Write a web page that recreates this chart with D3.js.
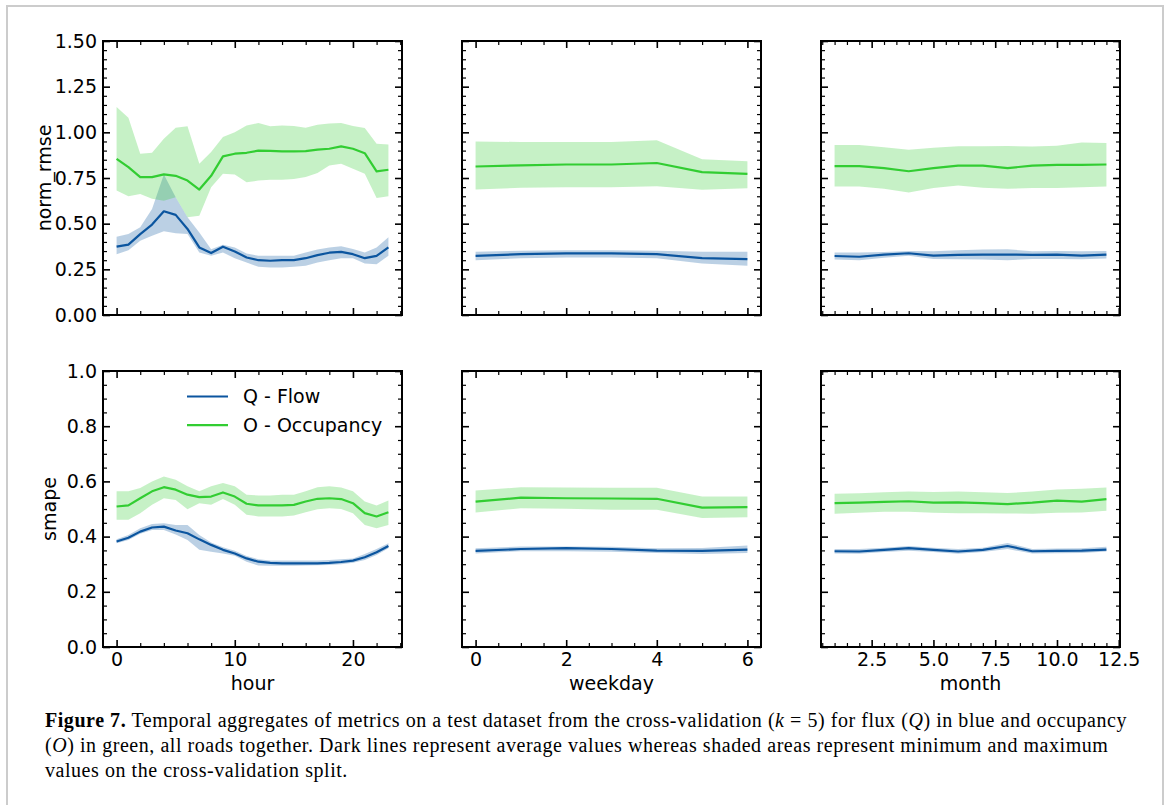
<!DOCTYPE html>
<html>
<head>
<meta charset="utf-8">
<script src="https://cdn.jsdelivr.net/npm/d3@7/dist/d3.min.js"></script>
<style>
  body { margin: 0; background: #fff; }
  svg text { font-family: "DejaVu Sans", sans-serif; fill: #000; }
  .cap text, text.cap { font-family: "Liberation Serif", serif; }
</style>
</head>
<body>
<svg id="fig" width="1167" height="805"></svg>
<script>
// ---------------- data ----------------
var hours    = [0,1,2,3,4,5,6,7,8,9,10,11,12,13,14,15,16,17,18,19,20,21,22,23];
var weekdays = [0,1,2,3,4,5,6];
var months   = [1,2,3,4,5,6,7,8,9,10,11,12];

// norm_rmse by hour
var rmseHourO    = [0.855,0.81,0.755,0.755,0.77,0.762,0.736,0.687,0.762,0.868,0.883,0.888,0.90,0.899,0.896,0.896,0.897,0.905,0.91,0.923,0.91,0.886,0.786,0.795];
var rmseHourOMax = [1.139,1.08,0.883,0.888,0.965,1.025,1.033,0.828,0.892,0.974,1.0,1.038,1.051,1.033,1.037,1.035,1.025,1.042,1.048,1.051,1.035,1.024,0.938,0.934];
var rmseHourOMin = [0.681,0.65,0.663,0.636,0.626,0.645,0.535,0.544,0.70,0.773,0.769,0.727,0.736,0.74,0.74,0.745,0.755,0.777,0.819,0.828,0.80,0.773,0.641,0.65];
var rmseHourQ    = [0.374,0.385,0.443,0.495,0.568,0.548,0.471,0.37,0.339,0.374,0.348,0.315,0.30,0.297,0.30,0.30,0.311,0.328,0.341,0.346,0.333,0.311,0.324,0.37];
var rmseHourQMax = [0.429,0.443,0.48,0.58,0.769,0.645,0.535,0.452,0.36,0.385,0.37,0.337,0.324,0.324,0.324,0.324,0.342,0.359,0.37,0.377,0.361,0.342,0.37,0.425];
var rmseHourQMin = [0.333,0.355,0.407,0.434,0.458,0.447,0.443,0.342,0.324,0.342,0.311,0.288,0.264,0.26,0.26,0.264,0.269,0.288,0.30,0.311,0.311,0.282,0.278,0.324];

// smape by hour
var smapeHourO    = [0.509,0.513,0.539,0.564,0.579,0.57,0.552,0.543,0.545,0.56,0.545,0.519,0.513,0.513,0.513,0.515,0.527,0.537,0.539,0.536,0.521,0.485,0.473,0.488];
var smapeHourOMax = [0.564,0.564,0.576,0.60,0.618,0.606,0.582,0.564,0.582,0.594,0.582,0.552,0.549,0.549,0.552,0.552,0.564,0.579,0.582,0.578,0.564,0.527,0.513,0.531];
var smapeHourOMin = [0.461,0.461,0.485,0.515,0.539,0.533,0.499,0.521,0.515,0.536,0.515,0.479,0.473,0.473,0.473,0.476,0.488,0.499,0.503,0.50,0.485,0.442,0.43,0.442];
var smapeHourQ    = [0.382,0.396,0.418,0.433,0.436,0.422,0.412,0.39,0.37,0.352,0.339,0.321,0.309,0.305,0.303,0.303,0.303,0.303,0.305,0.308,0.313,0.325,0.343,0.366];
var smapeHourQMax = [0.39,0.406,0.43,0.446,0.448,0.442,0.442,0.406,0.379,0.361,0.349,0.33,0.318,0.313,0.313,0.313,0.313,0.313,0.315,0.318,0.321,0.337,0.355,0.376];
var smapeHourQMin = [0.376,0.388,0.41,0.424,0.424,0.408,0.388,0.352,0.345,0.339,0.331,0.309,0.295,0.294,0.294,0.294,0.295,0.296,0.297,0.30,0.305,0.315,0.333,0.358];

// norm_rmse by weekday
var rmseDayO    = [0.813,0.819,0.824,0.824,0.832,0.782,0.773];
var rmseDayOMax = [0.95,0.947,0.947,0.947,0.956,0.852,0.842];
var rmseDayOMin = [0.687,0.696,0.70,0.70,0.705,0.685,0.694];
var rmseDayQ    = [0.324,0.333,0.337,0.337,0.333,0.311,0.306];
var rmseDayQMax = [0.346,0.352,0.355,0.355,0.352,0.346,0.346];
var rmseDayQMin = [0.30,0.311,0.315,0.315,0.311,0.282,0.269];

// smape by weekday
var smapeDayO    = [0.527,0.541,0.539,0.538,0.537,0.505,0.507];
var smapeDayOMax = [0.567,0.579,0.578,0.577,0.577,0.545,0.545];
var smapeDayOMin = [0.487,0.503,0.501,0.497,0.497,0.467,0.47];
var smapeDayQ    = [0.348,0.355,0.358,0.355,0.349,0.348,0.353];
var smapeDayQMax = [0.358,0.364,0.364,0.363,0.358,0.359,0.368];
var smapeDayQMin = [0.339,0.347,0.347,0.345,0.341,0.337,0.341];

// norm_rmse by month
var rmseMonthO    = [0.815,0.815,0.804,0.787,0.804,0.818,0.818,0.804,0.818,0.822,0.822,0.824];
var rmseMonthOMax = [0.931,0.931,0.918,0.904,0.916,0.924,0.924,0.925,0.922,0.927,0.944,0.942];
var rmseMonthOMin = [0.704,0.704,0.691,0.671,0.695,0.709,0.696,0.691,0.695,0.695,0.70,0.704];
var rmseMonthQ    = [0.323,0.319,0.331,0.338,0.325,0.329,0.331,0.331,0.329,0.331,0.325,0.331];
var rmseMonthQMax = [0.342,0.342,0.345,0.351,0.349,0.355,0.358,0.36,0.349,0.351,0.349,0.351];
var rmseMonthQMin = [0.304,0.30,0.314,0.325,0.307,0.305,0.304,0.30,0.307,0.307,0.305,0.309];

// smape by month
var smapeMonthO    = [0.521,0.523,0.526,0.528,0.523,0.524,0.521,0.518,0.523,0.53,0.527,0.536];
var smapeMonthOMax = [0.555,0.557,0.561,0.563,0.562,0.563,0.561,0.558,0.563,0.571,0.573,0.578];
var smapeMonthOMin = [0.483,0.486,0.49,0.49,0.486,0.485,0.485,0.484,0.483,0.486,0.487,0.494];
var smapeMonthQ    = [0.347,0.346,0.352,0.358,0.352,0.346,0.352,0.366,0.347,0.348,0.349,0.353];
var smapeMonthQMax = [0.355,0.355,0.36,0.366,0.36,0.355,0.36,0.377,0.355,0.357,0.358,0.363];
var smapeMonthQMin = [0.339,0.338,0.344,0.349,0.344,0.338,0.344,0.355,0.339,0.34,0.341,0.346];

// ticks
var rmseTicks   = [0, 0.25, 0.5, 0.75, 1.0, 1.25, 1.5];
var smapeTicks  = [0, 0.2, 0.4, 0.6, 0.8, 1.0];
var hourTicks   = [0, 10, 20];
var dayTicks    = [0, 2, 4, 6];
var monthTicks  = [2.5, 5.0, 7.5, 10.0, 12.5];

var legendLabels = ['Q - Flow', 'O - Occupancy'];
var blue = '#0b559f', green = '#32cd32';

// ---------------- layout ----------------
var svg = d3.select('#fig');
var colLeft = [103, 462, 821], panelW = 299;
var rowTop = [41, 371], rowBottom = [315, 647];

svg.append('rect')
  .attr('x', 7).attr('y', 6).attr('width', 1156).attr('height', 850)
  .attr('fill', 'none').attr('stroke', '#cccccc').attr('stroke-width', 2);

function minors(domain, step, majors) {
  var out = [];
  var start = Math.ceil(domain[0] / step - 1e-9);
  for (var k = start; k * step <= domain[1] + 1e-9; k++) {
    var v = +(k * step).toFixed(4);
    if (!majors.some(function(m) { return Math.abs(m - v) < 1e-6 })) out.push(v);
  }
  return out;
}

function drawPanel(p) {
  var left = colLeft[p.col], right = left + panelW;
  var top = rowTop[p.row], bottom = rowBottom[p.row];
  var x = d3.scaleLinear().domain(p.xDomain).range([left, right]);
  var y = d3.scaleLinear().domain(p.yDomain).range([bottom, top]);
  var g = svg.append('g');

  p.series.forEach(function(s) {
    var area = d3.area()
      .x(function(d, i) { return x(p.xs[i]) })
      .y0(function(d, i) { return y(s.min[i]) })
      .y1(function(d, i) { return y(s.max[i]) });
    g.append('path').datum(s.mean)
      .attr('d', area)
      .attr('fill', s.color).attr('fill-opacity', 0.28).attr('stroke', 'none');
  });
  p.series.forEach(function(s) {
    var line = d3.line()
      .x(function(d, i) { return x(p.xs[i]) })
      .y(function(d) { return y(d) });
    g.append('path').datum(s.mean)
      .attr('d', line)
      .attr('fill', 'none').attr('stroke', s.color).attr('stroke-width', 2.2)
      .attr('stroke-linejoin', 'round');
  });

  var xMin = minors(p.xDomain, p.xMinorStep, p.xTicks);
  var yMin = minors(p.yDomain, p.yMinorStep, p.yTicks);

  function axisGroup(axis, tx, ty, sw) {
    var a = g.append('g').attr('transform', 'translate(' + tx + ',' + ty + ')').call(axis);
    a.select('.domain').remove();
    a.selectAll('line').attr('stroke', '#000').attr('stroke-width', sw);
    a.selectAll('text').attr('font-family', '"DejaVu Sans", sans-serif').attr('font-size', 19).attr('fill', '#000');
    a.attr('font-family', null).attr('font-size', null);
    return a;
  }

  // major ticks
  axisGroup(d3.axisLeft(y).tickValues(p.yTicks).tickSize(-7).tickPadding(6)
    .tickFormat(p.col === 0 ? p.yFormat : ''), left, 0, 1.6);
  axisGroup(d3.axisRight(y).tickValues(p.yTicks).tickSize(-7).tickFormat(''), right, 0, 1.6);
  axisGroup(d3.axisBottom(x).tickValues(p.xTicks).tickSize(-7).tickPadding(6)
    .tickFormat(p.row === 1 ? p.xFormat : ''), 0, bottom, 1.6);
  axisGroup(d3.axisTop(x).tickValues(p.xTicks).tickSize(-7).tickFormat(''), 0, top, 1.6);
  // minor ticks
  axisGroup(d3.axisLeft(y).tickValues(yMin).tickSize(-4).tickFormat(''), left, 0, 1.2);
  axisGroup(d3.axisRight(y).tickValues(yMin).tickSize(-4).tickFormat(''), right, 0, 1.2);
  axisGroup(d3.axisBottom(x).tickValues(xMin).tickSize(-4).tickFormat(''), 0, bottom, 1.2);
  axisGroup(d3.axisTop(x).tickValues(xMin).tickSize(-4).tickFormat(''), 0, top, 1.2);

  g.append('rect')
    .attr('x', left).attr('y', top).attr('width', right - left).attr('height', bottom - top)
    .attr('fill', 'none').attr('stroke', '#000').attr('stroke-width', 2);

  if (p.row === 1) {
    g.append('text').attr('x', (left + right) / 2).attr('y', 690)
      .attr('text-anchor', 'middle').attr('font-size', 19).text(p.xLabel);
  }
  if (p.col === 0) {
    g.append('text')
      .attr('transform', 'translate(' + p.yLabelX + ',' + (top + bottom) / 2 + ') rotate(-90)')
      .attr('text-anchor', 'middle').attr('font-size', 19).text(p.yLabel);
  }
  return { x: x, y: y, g: g };
}

var fmt2 = d3.format('.2f'), fmt1 = d3.format('.1f'), fmt0 = d3.format('d');
var xSets = [
  { xs: hours, xDomain: [-1.15, 24.15], xTicks: hourTicks, xMinorStep: 2, xFormat: fmt0, xLabel: 'hour' },
  { xs: weekdays, xDomain: [-0.3, 6.3], xTicks: dayTicks, xMinorStep: 0.5, xFormat: fmt0, xLabel: 'weekday' },
  { xs: months, xDomain: [0.45, 12.55], xTicks: monthTicks, xMinorStep: 0.5, xFormat: fmt1, xLabel: 'month' }
];
var ySets = [
  { yDomain: [0, 1.5], yTicks: rmseTicks, yMinorStep: 0.05, yFormat: fmt2, yLabel: 'norm_rmse', yLabelX: 51 },
  { yDomain: [0, 1.0], yTicks: smapeTicks, yMinorStep: 0.05, yFormat: fmt1, yLabel: 'smape', yLabelX: 56 }
];
var seriesSets = [
  [ [rmseHourQ, rmseHourQMin, rmseHourQMax, rmseHourO, rmseHourOMin, rmseHourOMax],
    [rmseDayQ, rmseDayQMin, rmseDayQMax, rmseDayO, rmseDayOMin, rmseDayOMax],
    [rmseMonthQ, rmseMonthQMin, rmseMonthQMax, rmseMonthO, rmseMonthOMin, rmseMonthOMax] ],
  [ [smapeHourQ, smapeHourQMin, smapeHourQMax, smapeHourO, smapeHourOMin, smapeHourOMax],
    [smapeDayQ, smapeDayQMin, smapeDayQMax, smapeDayO, smapeDayOMin, smapeDayOMax],
    [smapeMonthQ, smapeMonthQMin, smapeMonthQMax, smapeMonthO, smapeMonthOMin, smapeMonthOMax] ]
];

var panels = [];
for (var r = 0; r < 2; r++) {
  for (var c = 0; c < 3; c++) {
    var s = seriesSets[r][c];
    var p = Object.assign({ row: r, col: c }, xSets[c], ySets[r]);
    p.series = [
      { mean: s[0], min: s[1], max: s[2], color: blue },
      { mean: s[3], min: s[4], max: s[5], color: green }
    ];
    panels.push(drawPanel(p));
  }
}

// legend (bottom-left panel)
var leg = svg.append('g');
[blue, green].forEach(function(col, i) {
  var ly = 396.5 + i * 28.7;
  leg.append('line').attr('x1', 187).attr('x2', 228).attr('y1', ly).attr('y2', ly)
    .attr('stroke', col).attr('stroke-width', 2.2);
  leg.append('text').attr('x', 243).attr('y', ly).attr('dy', '0.35em')
    .attr('font-size', 19).text(legendLabels[i]);
});

// caption
var capLines = [
  [['b', 'Figure 7.'], ['', ' Temporal aggregates of metrics on a test dataset from the cross-validation ('], ['i', 'k'], ['', ' = 5) for flux ('], ['i', 'Q'], ['', ') in blue and occupancy']],
  [['', '('], ['i', 'O'], ['', ') in green, all roads together. Dark lines represent average values whereas shaded areas represent minimum and maximum']],
  [['', 'values on the cross-validation split.']]
];
var capG = svg.append('g').attr('class', 'cap');
var capTexts = capLines.map(function(parts, i) {
  var t = capG.append('text').attr('class', 'cap').attr('x', 45).attr('y', 727 + i * 25)
    .attr('font-size', 20);
  parts.forEach(function(pt) {
    var ts = t.append('tspan').text(pt[1]);
    if (pt[0] === 'b') ts.attr('font-weight', 'bold');
    if (pt[0] === 'i') ts.attr('font-style', 'italic');
  });
  return t;
});
// fit first line to the reference width, same spacing for all lines
var w0 = capTexts[0].node().getComputedTextLength();
var n0 = capTexts[0].text().length;
var ls = (1082 - w0) / n0;
capTexts.forEach(function(t) { t.attr('letter-spacing', ls); });
</script>
</body>
</html>
